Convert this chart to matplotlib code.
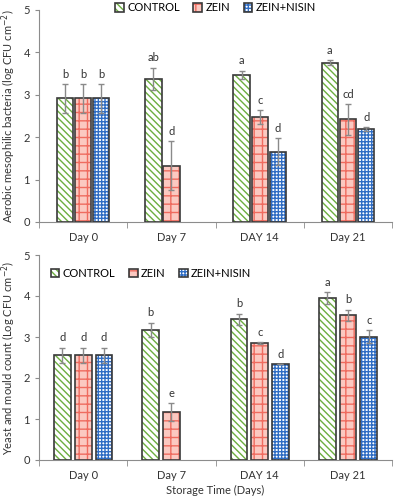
import numpy as np
import matplotlib
matplotlib.use("Agg")
import matplotlib.pyplot as plt

plt.rcParams['font.family'] = ['Lato', 'DejaVu Sans']
plt.rcParams['hatch.linewidth'] = 1.0

days = ["Day 0", "Day 7", "DAY 14", "Day 21"]
treatments = ["CONTROL", "ZEIN", "ZEIN+NISIN"]

# aerobic mesophilic bacteria
amb_mean = [[2.92, 3.38, 3.47, 3.76],
            [2.92, 1.33, 2.47, 2.42],
            [2.92, 0.0, 1.66, 2.19]]
amb_err = [[0.34, 0.26, 0.10, 0.06],
           [0.34, 0.57, 0.17, 0.37],
           [0.34, 0.0, 0.32, 0.04]]
amb_letters = [["b", "ab", "a", "a"],
               ["b", "d", "c", "cd"],
               ["b", "", "d", "d"]]

# yeast and mould
ym_mean = [[2.55, 3.18, 3.43, 3.95],
           [2.55, 1.16, 2.85, 3.53],
           [2.55, 0.0, 2.33, 3.01]]
ym_err = [[0.19, 0.17, 0.14, 0.15],
          [0.19, 0.22, 0.02, 0.14],
          [0.19, 0.0, 0.0, 0.16]]
ym_letters = [["d", "b", "b", "a"],
              ["d", "e", "c", "b"],
              ["d", "", "d", "c"]]

styles = [dict(face="white", hatch="\\\\\\\\\\", hc="#6cae3f"),
          dict(face="#fbc9c1", hatch="++", hc="#ef6b5f"),
          dict(face="white", hatch="+++++", hc="#2f6dc4")]


def draw(ax, means, errs, letters, width, step):
    x = np.arange(len(days))
    handles = []
    for i, name in enumerate(treatments):
        st = styles[i]
        m = np.array(means[i])
        e = np.array(errs[i])
        ok = m > 0
        pos = (x + (i - 1) * step)[ok]
        hf = ax.bar(pos, m[ok], width, color=st["face"], hatch=st["hatch"],
                    edgecolor=st["hc"], linewidth=0, zorder=2)
        ho = ax.bar(pos, m[ok], width, color="none", edgecolor="#3a3a3a",
                    linewidth=1.2, zorder=3)
        handles.append((hf.patches[0], ho.patches[0]))
        ax.errorbar(pos, m[ok], yerr=e[ok], fmt="none", ecolor="#8a8a8a",
                    elinewidth=1, capsize=2, capthick=1, zorder=4)
        lts = [l for l, k in zip(letters[i], ok) if k]
        for p, v, er, lt in zip(pos, m[ok], e[ok], lts):
            ax.annotate(lt, (p, v + er), xytext=(0, 3), textcoords="offset points",
                        ha="center", va="bottom", fontsize=8, color="#333333")
    ax.set_xlim(-0.5, 3.5)
    ax.set_ylim(0, 5)
    ax.set_yticks(range(6))
    ax.set_xticks(x)
    ax.set_xticklabels(days)
    ax.set_xticks(np.arange(-0.5, 4.0, 1.0), minor=True)
    ax.tick_params(axis="x", which="major", length=0, pad=7, labelsize=8, colors="#333333")
    ax.tick_params(axis="x", which="minor", length=4, color="#8c8c8c")
    ax.tick_params(axis="y", length=3, color="#8c8c8c", labelsize=8, labelcolor="#333333")
    for s in ["top", "right"]:
        ax.spines[s].set_visible(False)
    for s in ["left", "bottom"]:
        ax.spines[s].set_color("#8c8c8c")
    return handles


fig = plt.figure(figsize=(4.15, 5.0), dpi=100)
ax1 = fig.add_axes([0.094, 0.556, 0.851, 0.424])
ax2 = fig.add_axes([0.094, 0.08, 0.851, 0.41])

h1 = draw(ax1, amb_mean, amb_err, amb_letters, 0.185, 0.205)
ax1.set_ylabel("Aerobic mesophilic bacteria (log CFU cm$^{-2}$)", fontsize=8, color="#333333")
ax1.legend(handles=h1, labels=treatments, loc="lower center", bbox_to_anchor=(0.5, 0.985),
           ncol=3, frameon=False, fontsize=8, handlelength=0.8, handleheight=0.8,
           handletextpad=0.3, columnspacing=1.2, borderaxespad=0, borderpad=0)

h2 = draw(ax2, ym_mean, ym_err, ym_letters, 0.19, 0.235)
ax2.set_ylabel("Yeast and mould count (Log CFU cm$^{-2}$)", fontsize=8, color="#333333")
ax2.set_xlabel("Storage Time (Days)", fontsize=8, color="#333333", labelpad=3)
ax2.legend(handles=h2, labels=treatments, loc="upper left", bbox_to_anchor=(0.02, 0.96),
           ncol=3, frameon=False, fontsize=8, handlelength=0.8, handleheight=0.8,
           handletextpad=0.3, columnspacing=1.2, borderaxespad=0)

fig.savefig("out.png", dpi=100)
